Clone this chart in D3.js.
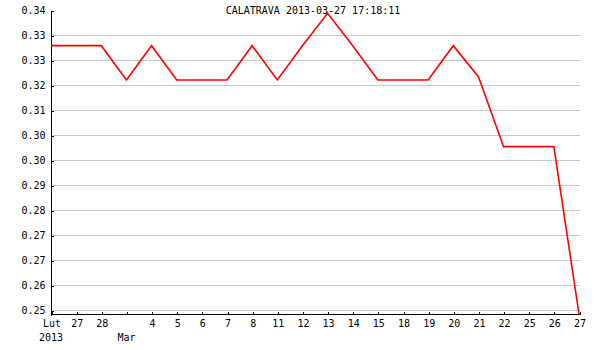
<!DOCTYPE html>
<html>
<head>
<meta charset="utf-8">
<script src="https://cdnjs.cloudflare.com/ajax/libs/d3/7.8.5/d3.min.js"></script>
<style>
  body { margin: 0; background: #fff; }
  svg text { font-family: "DejaVu Sans Mono", monospace; font-size: 10px; fill: #000; }
</style>
</head>
<body>
<svg id="chart" width="600" height="350"></svg>
<script>
// dane
const title = "CALATRAVA 2013-03-27 17:18:11";
const dayLabels = ["Lut", "27", "28", "", "4", "5", "6", "7", "8", "11", "12", "13", "14", "15", "18", "19", "20", "21", "22", "25", "26", "27"];
const subLabels = ["2013", "", "", "Mar", "", "", "", "", "", "", "", "", "", "", "", "", "", "", "", "", "", ""];
const values = [0.3293, 0.3293, 0.3293, 0.3190, 0.3293, 0.3190, 0.3190, 0.3190, 0.3293, 0.3190, 0.3293,
                0.3390, 0.3293, 0.3190, 0.3190, 0.3190, 0.3293, 0.3200, 0.2990, 0.2990, 0.2990, 0.2488];
const yTicks = [0.25, 0.2575, 0.265, 0.2725, 0.28, 0.2875, 0.295, 0.3025, 0.31, 0.3175, 0.325, 0.3325, 0.34];
const yTickLabels = ["0.25", "0.26", "0.27", "0.27", "0.28", "0.29", "0.30", "0.30", "0.31", "0.32", "0.33", "0.33", "0.34"];

const svg = d3.select("#chart");
const plotLeft = 51, plotRight = 579, plotTop = 10, plotBottom = 310, axisY = 314;

const x = d3.scalePoint()
  .domain(d3.range(values.length))
  .range([plotLeft, plotRight]);

const y = d3.scaleLinear()
  .domain([0.25, 0.34])
  .range([plotBottom, plotTop]);

// siatka
svg.append("g")
  .selectAll("line")
  .data(yTicks.slice(0, -1))
  .enter()
  .append("line")
  .attr("x1", plotLeft + 2)
  .attr("x2", plotRight + 1)
  .attr("y1", d => Math.round(y(d)) + 0.5)
  .attr("y2", d => Math.round(y(d)) + 0.5)
  .style("stroke", "#c8c8c8")
  .style("shape-rendering", "crispEdges");

// oś Y
const yAxis = svg.append("g")
  .attr("transform", `translate(${plotLeft + 0.5},0.5)`)
  .call(d3.axisLeft(y).tickValues(yTicks).tickSize(-2).tickPadding(6)
    .tickFormat((d, i) => yTickLabels[i]));
yAxis.select(".domain").remove();
yAxis.append("line")
  .attr("y1", plotTop)
  .attr("y2", axisY + 1)
  .style("stroke", "#000");
yAxis.selectAll(".tick line").style("stroke", "#000").attr("x1", -1);
yAxis.selectAll(".tick text").attr("x", -6);
yAxis.attr("font-family", null).attr("font-size", null);
yAxis.selectAll("line").style("shape-rendering", "crispEdges");

// oś X
const xAxis = svg.append("g")
  .attr("transform", `translate(0.5,${axisY + 0.5})`)
  .call(d3.axisBottom(x).tickSize(-3).tickPadding(0).tickFormat((d, i) => dayLabels[i]));
xAxis.select(".domain").remove();
xAxis.append("line")
  .attr("x1", plotLeft)
  .attr("x2", plotRight + 1)
  .style("stroke", "#000");
xAxis.selectAll(".tick line").style("stroke", "#000");
xAxis.selectAll(".tick text").attr("y", 5).attr("dy", "0.71em");
xAxis.attr("font-family", null).attr("font-size", null);
xAxis.selectAll("line").style("shape-rendering", "crispEdges");

// druga linia etykiet
svg.append("g")
  .selectAll("text")
  .data(subLabels)
  .enter()
  .append("text")
  .attr("x", (d, i) => x(i))
  .attr("y", axisY + 27)
  .attr("text-anchor", "middle")
  .text(d => d);

// linia
svg.append("path")
  .datum(values)
  .attr("d", d3.line().x((d, i) => x(i)).y(d => y(d)))
  .style("fill", "none")
  .style("stroke", "#ff0000")
  .style("stroke-width", 1.6);

// tytuł
svg.append("text")
  .attr("x", 313)
  .attr("y", 14)
  .attr("text-anchor", "middle")
  .text(title);
</script>
</body>
</html>
